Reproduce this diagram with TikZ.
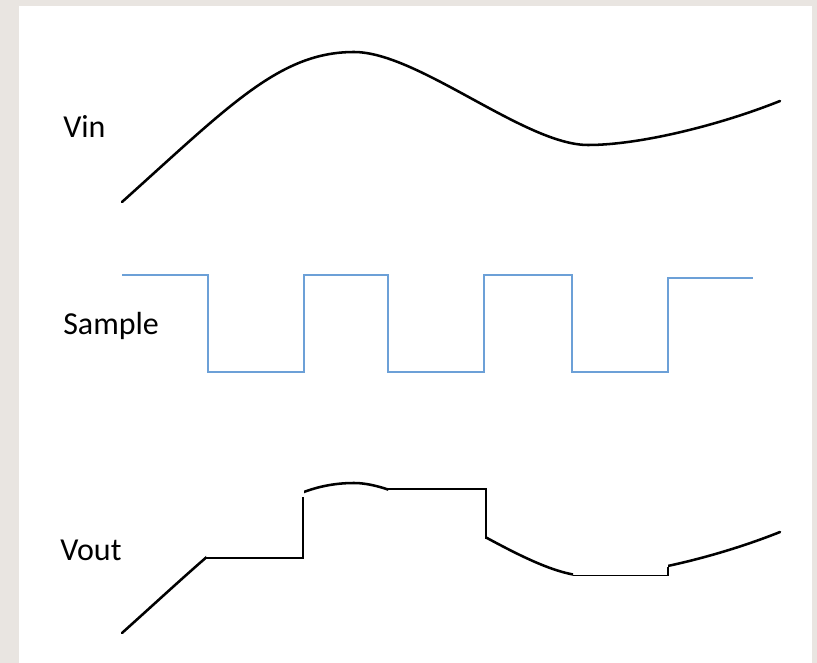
\documentclass[tikz,border=0pt]{standalone}
\usepackage{fontspec}
\setmainfont{Carlito}
\definecolor{bgtone}{RGB}{233,229,225}
\definecolor{sampleblue}{RGB}{108,160,215}
\tikzset{
  wave/.style={line width=1.9pt, line cap=round, line join=round},
  hold/.style={line width=1.1pt},
  clockline/.style={sampleblue, line width=1.1pt, line join=miter},
  lbl/.style={font=\fontsize{24}{28}\selectfont, anchor=base west, inner sep=0pt}
}
\begin{document}
\begin{tikzpicture}[x=0.75pt, y=-0.75pt]
\useasboundingbox (0,0) rectangle (817,663);
\fill[bgtone] (0,0) rectangle (817,663);
\fill[white] (19,6) rectangle (812,663);

% labels
\node[lbl] (vin) at (63,138) {Vin};
\node[lbl] (sample) at (63,334) {Sample};
\node[lbl] (vout) at (60,560) {Vout};

% Vin curve
\draw[wave] (122,202) .. controls (230,105) and (280,52) .. (354,52)
  .. controls (418,52) and (525,145) .. (588,145)
  .. controls (640,145) and (720,125) .. (780,101);

% Sample clock
\draw[clockline] (122,275) -- (208,275) -- (208,372) -- (304,372) -- (304,275)
  -- (388,275) -- (388,372) -- (484,372) -- (484,275) -- (572,275) -- (572,372)
  -- (668,372) -- (668,278) -- (753,278);

% Vout: tracking segments (Vin shifted down)
\begin{scope}[yshift=-431*0.75pt]
  \begin{scope}
    \clip (100,0) rectangle (206,300);
    \draw[wave] (122,202) .. controls (230,105) and (280,52) .. (354,52);
  \end{scope}
  \begin{scope}
    \clip (304,0) rectangle (388,300);
    \draw[wave] (122,202) .. controls (230,105) and (280,52) .. (354,52)
      .. controls (418,52) and (525,145) .. (588,145);
  \end{scope}
  \begin{scope}
    \clip (486,0) rectangle (573,300);
    \draw[wave] (354,52) .. controls (418,52) and (525,145) .. (588,145);
  \end{scope}
  \begin{scope}
    \clip (668,0) rectangle (800,300);
    \draw[wave] (588,145) .. controls (640,145) and (720,125) .. (780,101);
  \end{scope}
\end{scope}

% Vout: hold segments
\draw[hold] (206,558) -- (303,558) -- (303,497);
\draw[hold] (388,489) -- (486,489) -- (486,539);
\draw[hold] (573,575.5) -- (668,575.5) -- (668,567);
\end{tikzpicture}
\end{document}
